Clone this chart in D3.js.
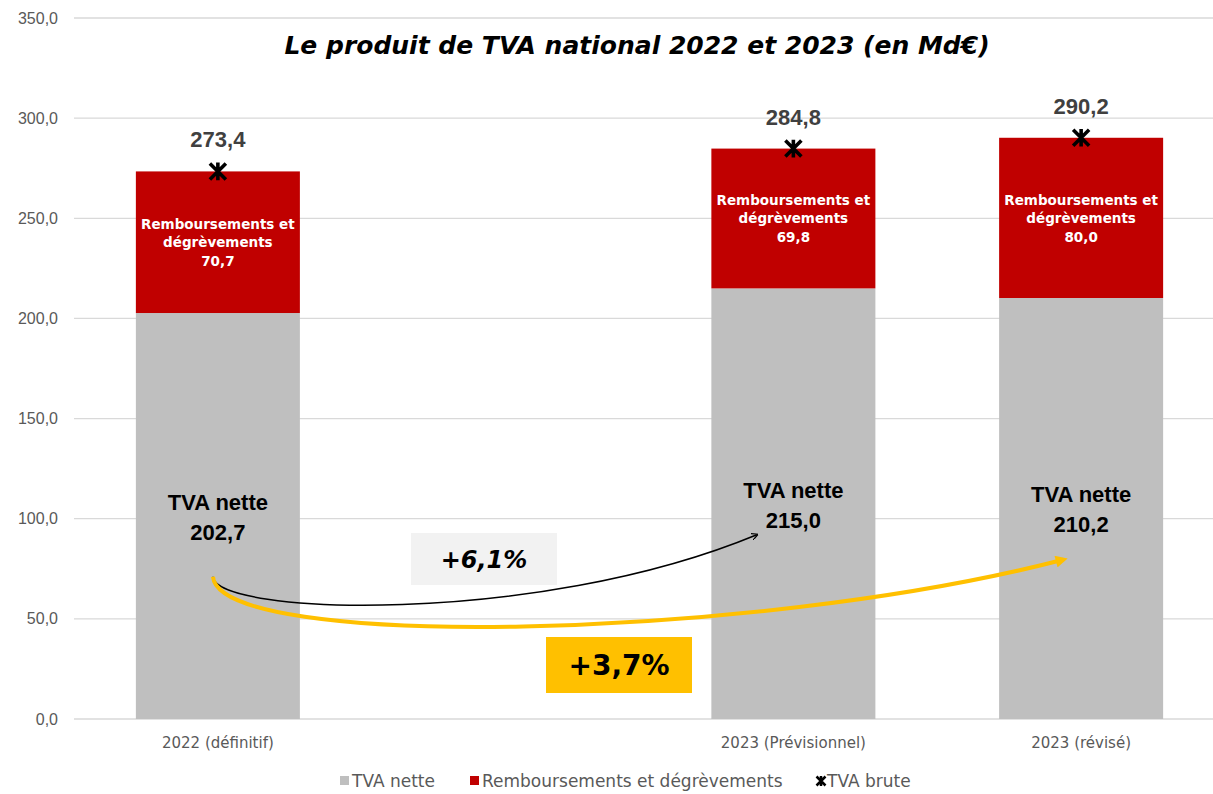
<!DOCTYPE html>
<html>
<head>
<meta charset="utf-8">
<script src="https://cdn.jsdelivr.net/npm/d3@7"></script>
<style>
  body { margin: 0; background: #fff; }
  svg { display: block; }
</style>
</head>
<body>
<div id="content"></div>
<script>
(function(d3) {

   var categories = ["2022 (définitif)", " ", "2023 (Prévisionnel)", "2023 (révisé)"];
   var tvaNette = [202.7, null, 215.0, 210.2];
   var rembours = [70.7, null, 69.8, 80.0];
   var tvaBrute = [273.4, null, 284.8, 290.2];
   var yTicks = [0, 50, 100, 150, 200, 250, 300, 350];
   var legendLabels = ["TVA nette", "Remboursements et dégrèvements", "TVA brute"];

   // growth arrows, in (category index, value) units
   var arrows = [
      {label: "+6,1%", color: "#000", width: 1.5,
       pts: [[-0.017, 71], [-0.01, 52], [1.1, 46], [1.873, 92]]},
      {label: "+3,7%", color: "#ffc000", width: 4,
       pts: [[-0.017, 71], [0.007, 34], [1.85, 39], [2.937, 79.5]]}
   ];

   var win_width = 1213;
   var win_height = 794;
   var fmt = function(v) { return d3.format(".1f")(v).replace(".", ","); };

   var svg = d3.select("#content").append("svg")
      .attr("width", win_width)
      .attr("height", win_height);

   var x = d3.scaleBand().domain(categories).range([74, 1225])
      .paddingInner(0.43).paddingOuter(0.215);
   var y = d3.scaleLinear().domain([0, 350]).range([719, 18]);
   var xi = d3.scaleLinear().domain([0, 1])
      .range([x(categories[0]) + x.bandwidth() / 2, x(categories[1]) + x.bandwidth() / 2]);

   // gridlines
   svg.append("g").selectAll("line").data(yTicks).enter().append("line")
      .attr("x1", 74).attr("x2", win_width)
      .attr("y1", function(d) { return y(d); }).attr("y2", function(d) { return y(d); })
      .style("stroke", "#d9d9d9").style("stroke-width", 1.3);

   var yAxis = svg.append("g").attr("transform", "translate(66,0)")
      .call(d3.axisLeft(y).tickValues(yTicks).tickSize(0).tickPadding(8).tickFormat(fmt));
   yAxis.select(".domain").remove();
   yAxis.selectAll("text").style("font-family", "Liberation Sans").style("font-size", "16px")
      .style("fill", "#595959");

   var xAxis = svg.append("g").attr("transform", "translate(0,735)")
      .call(d3.axisBottom(x).tickSize(0).tickPadding(2));
   xAxis.select(".domain").remove();
   xAxis.selectAll("text").style("font-family", "DejaVu Sans").style("font-size", "15px")
      .style("fill", "#595959");

   var idx = d3.range(categories.length).filter(function(i) { return tvaNette[i] != null; });

   // bars
   svg.append("g").selectAll("rect").data(idx).enter().append("rect")
      .attr("x", function(i) { return x(categories[i]); })
      .attr("width", x.bandwidth())
      .attr("y", function(i) { return y(tvaNette[i]); })
      .attr("height", function(i) { return y(0) - y(tvaNette[i]); })
      .style("fill", "#bfbfbf");

   svg.append("g").selectAll("rect").data(idx).enter().append("rect")
      .attr("x", function(i) { return x(categories[i]); })
      .attr("width", x.bandwidth())
      .attr("y", function(i) { return y(tvaNette[i] + rembours[i]); })
      .attr("height", function(i) { return y(tvaNette[i]) - y(tvaNette[i] + rembours[i]); })
      .style("fill", "#c00000");

   // labels in grey part
   idx.forEach(function(i) {
      var cx = x(categories[i]) + x.bandwidth() / 2;
      var cy = y(tvaNette[i] / 2);
      var t = svg.append("text").attr("text-anchor", "middle")
         .style("font-family", "Liberation Sans").style("font-weight", "bold")
         .style("font-size", "22px").style("fill", "#000");
      t.append("tspan").attr("x", cx).attr("y", cy - 6).text("TVA nette");
      t.append("tspan").attr("x", cx).attr("y", cy + 24).text(fmt(tvaNette[i]));

      var ry = y(tvaNette[i] + rembours[i] / 2);
      var r = svg.append("text").attr("text-anchor", "middle")
         .style("font-family", "DejaVu Sans").style("font-weight", "bold")
         .style("font-size", "13.5px").style("fill", "#fff");
      r.append("tspan").attr("x", cx).attr("y", ry - 13).text("Remboursements et");
      r.append("tspan").attr("x", cx).attr("y", ry + 5).text("dégrèvements");
      r.append("tspan").attr("x", cx).attr("y", ry + 24).text(fmt(rembours[i]));

      svg.append("text").attr("text-anchor", "middle")
         .attr("x", cx).attr("y", y(tvaBrute[i]) - 24)
         .style("font-family", "Liberation Sans").style("font-weight", "bold")
         .style("font-size", "22px").style("fill", "#404040")
         .text(fmt(tvaBrute[i]));
   });

   // TVA brute markers
   function star(g, s, w) {
      g.append("path")
         .attr("d", "M" + (-s) + "," + (-s) + "L" + s + "," + s + "M" + s + "," + (-s) + "L" + (-s) + "," + s +
               "M0," + (-s * 1.1) + "L0," + (s * 1.1))
         .style("stroke", "#000").style("stroke-width", w).style("fill", "none");
   }
   idx.forEach(function(i) {
      var g = svg.append("g").attr("transform", "translate(" + (x(categories[i]) + x.bandwidth() / 2) + "," + y(tvaBrute[i]) + ")");
      star(g, 8, 3.6);
   });

   // arrows
   var defs = svg.append("defs");
   defs.append("marker").attr("id", "headBlack").attr("viewBox", "0 0 10 10")
      .attr("refX", 8).attr("refY", 5).attr("markerWidth", 7).attr("markerHeight", 7)
      .attr("orient", "auto").attr("markerUnits", "userSpaceOnUse")
      .append("path").attr("d", "M0,0L10,5L0,10").style("fill", "none").style("stroke", "#000").style("stroke-width", 1.8);
   defs.append("marker").attr("id", "headYellow").attr("viewBox", "0 0 10 10")
      .attr("refX", 6).attr("refY", 5).attr("markerWidth", 14).attr("markerHeight", 12)
      .attr("orient", "auto").attr("markerUnits", "userSpaceOnUse")
      .append("path").attr("d", "M0,0L10,5L0,10Z").style("fill", "#ffc000");

   arrows.forEach(function(a, k) {
      var p = a.pts.map(function(d) { return [xi(d[0]), y(d[1])]; });
      svg.append("path")
         .attr("d", "M" + p[0] + "C" + p[1] + " " + p[2] + " " + p[3])
         .style("fill", "none").style("stroke", a.color).style("stroke-width", a.width)
         .attr("marker-end", k === 0 ? "url(#headBlack)" : "url(#headYellow)");
   });

   // growth boxes
   var boxes = [
      {x: 411, y: 533, w: 146, h: 52, fill: "#f2f2f2", size: 24, italic: true},
      {x: 546, y: 637, w: 146, h: 56, fill: "#ffc000", size: 28, italic: false}
   ];
   boxes.forEach(function(b, k) {
      svg.append("rect").attr("x", b.x).attr("y", b.y).attr("width", b.w).attr("height", b.h)
         .style("fill", b.fill);
      svg.append("text").attr("x", b.x + b.w / 2).attr("y", b.y + b.h / 2 + b.size * 0.36)
         .attr("text-anchor", "middle")
         .style("font-family", "DejaVu Sans").style("font-weight", "bold")
         .style("font-style", b.italic ? "italic" : "normal")
         .style("font-size", b.size + "px").style("fill", "#000")
         .text(arrows[k].label);
   });

   // title
   svg.append("text").attr("x", 637).attr("y", 54).attr("text-anchor", "middle")
      .style("font-family", "DejaVu Sans").style("font-weight", "bold").style("font-style", "italic")
      .style("font-size", "25px").style("fill", "#000")
      .text("Le produit de TVA national 2022 et 2023 (en Md€)");

   // legend
   var legX = [340, 470, 815];
   legendLabels.forEach(function(l, k) {
      var g = svg.append("g").attr("transform", "translate(" + legX[k] + ",781)");
      if (k < 2) {
         g.append("rect").attr("x", 0).attr("y", -5).attr("width", 9).attr("height", 9)
            .style("fill", k === 0 ? "#bfbfbf" : "#c00000");
      } else {
         var s = g.append("g").attr("transform", "translate(6,0)");
         star(s, 4.5, 2.5);
      }
      g.append("text").attr("x", 12).attr("y", 6)
         .style("font-family", "DejaVu Sans").style("font-size", "17px")
         .style("fill", "#595959").text(l);
   });

})(window.d3);
</script>
</body>
</html>
